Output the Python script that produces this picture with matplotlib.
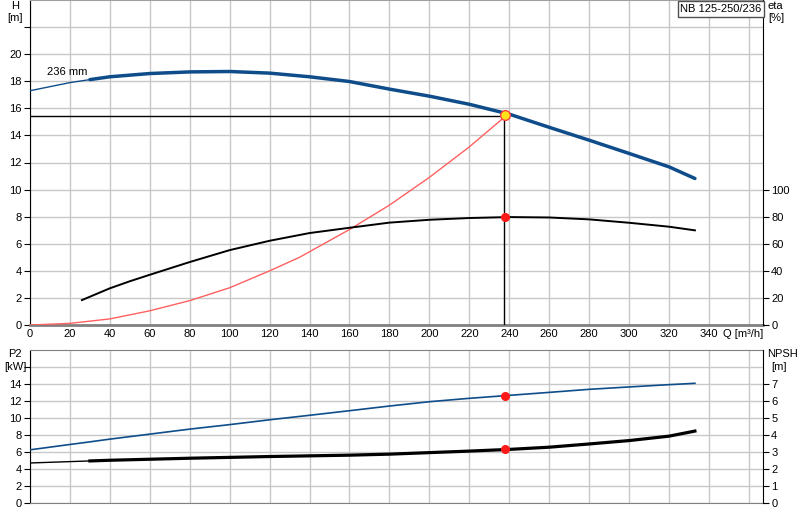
import matplotlib.pyplot as plt
import numpy as np

plt.rcParams['font.family'] = ['Liberation Sans', 'DejaVu Sans']
plt.rcParams['font.size'] = 8

# Data
q_h = [0, 20, 30, 40, 60, 80, 100, 120, 140, 160, 180, 200, 220, 240, 260, 280, 300, 320, 333]
head = [17.3, 17.9, 18.12, 18.33, 18.57, 18.69, 18.72, 18.6, 18.33, 17.98, 17.42, 16.9, 16.3,
        15.57, 14.6, 13.65, 12.67, 11.68, 10.82]

q_sys = [0, 20, 40, 60, 80, 100, 120, 135, 160, 180, 200, 220, 238]
h_sys = [0, 0.12, 0.45, 1.05, 1.8, 2.75, 4.0, 5.0, 7.05, 8.85, 10.9, 13.15, 15.4]

q_eta = [26, 40, 50, 60, 80, 100, 120, 140, 160, 180, 200, 220, 240, 260, 280, 300, 320, 333]
eta = [18.4, 27.1, 32.3, 37.1, 46.5, 55.3, 62.2, 67.9, 71.8, 75.6, 77.7, 79.0, 79.7, 79.4,
       78.0, 75.5, 72.6, 69.9]

q_p = [0, 20, 30, 40, 60, 80, 100, 120, 140, 160, 180, 200, 220, 240, 260, 280, 300, 320, 333]
p2 = [6.23, 6.86, 7.17, 7.49, 8.08, 8.67, 9.2, 9.77, 10.3, 10.84, 11.39, 11.9, 12.3, 12.65,
      13.0, 13.36, 13.64, 13.91, 14.07]
npsh = [2.34, 2.42, 2.46, 2.5, 2.56, 2.62, 2.67, 2.72, 2.76, 2.8, 2.86, 2.95, 3.04, 3.14,
        3.27, 3.46, 3.66, 3.92, 4.22]

duty_q = 238
duty_h = 15.45
duty_eta = 80
duty_p2 = 12.6
duty_npsh = 3.14

blue = '#0f4d8a'
grid_c = '#c8c8c8'

fig = plt.figure(figsize=(8, 5.2), dpi=100)

# ---- top panel: head + efficiency
ax = fig.add_axes([0.0375, 0.375, 0.916, 0.625])
ax.set_xlim(0, 367)
ax.set_ylim(0, 24)
ax.set_xticks(np.arange(0, 361, 20))
ax.set_xticklabels([str(v) if v <= 340 else '' for v in range(0, 361, 20)])
ax.set_yticks(np.arange(0, 23, 2))
ax.set_yticklabels([str(v) if v <= 20 else '' for v in range(0, 23, 2)])
ax.grid(True, color=grid_c, lw=1)
ax.set_axisbelow(True)
ax.tick_params(axis='x', length=0, pad=3)
ax.tick_params(axis='y', direction='out', length=4, pad=2)
ax.spines['top'].set_color('#a0a0a0')
ax.spines['bottom'].set_color('#808080')
ax.spines['bottom'].set_linewidth(2)
ax.spines['right'].set_visible(False)

qh = np.array(q_h)
hh = np.array(head)
ax.plot(qh, hh, color=blue, lw=1, zorder=3)
ax.plot(qh[qh >= 30], hh[qh >= 30], color=blue, lw=2.5, zorder=3, solid_capstyle='round')
ax.plot(q_sys, h_sys, color='#ff6060', lw=1, zorder=3)
ax.plot([0, duty_q], [duty_h - 0.05, duty_h - 0.05], color='black', lw=1, zorder=4)
ax.plot([duty_q - 0.5, duty_q - 0.5], [0, duty_h - 0.05], color='black', lw=1, zorder=4)
ax.plot(duty_q, duty_h + 0.05, 'o', ms=7, mfc='#ffe21a', mec='#ff4040', mew=1, zorder=5)
ax.text(8.5, 18.7, '236 mm', fontsize=8, va='center')
ax.annotate('Q [m³/h]', xy=(347, 0), xycoords=('data', 'axes fraction'),
            xytext=(0, -3), textcoords='offset points', va='top', ha='left',
            fontsize=8, annotation_clip=False)

ax2 = ax.twinx()
ax2.set_ylim(0, 240)
ax2.set_yticks(np.arange(0, 101, 20))
ax2.tick_params(axis='y', direction='out', length=4, pad=2)
ax2.spines['right'].set_color('black')
ax2.spines['top'].set_visible(False)
ax2.spines['left'].set_visible(False)
ax2.spines['bottom'].set_visible(False)
ax2.plot(q_eta, eta, color='black', lw=1.4, zorder=3)
ax2.plot(duty_q, duty_eta, 'o', ms=5.5, color='#ff1a1a', zorder=5)

fig.text(15 / 800, 1 - 6 / 520, 'H', ha='center', va='center', fontsize=8)
fig.text(15 / 800, 1 - 18 / 520, '[m]', ha='center', va='center', fontsize=8)
fig.text(768 / 800, 1 - 6 / 520, 'eta', ha='left', va='center', fontsize=8)
fig.text(768 / 800, 1 - 18 / 520, '[%]', ha='left', va='center', fontsize=8)
fig.text(721 / 800, 1 - 9 / 520, 'NB 125-250/236', ha='center', va='center', fontsize=8,
         bbox=dict(boxstyle='square,pad=0.25', fc='white', ec='#505050', lw=1))

# ---- bottom panel: power + NPSH
bx = fig.add_axes([0.0375, 0.0333, 0.916, 0.2937])
bx.set_xlim(0, 367)
bx.set_ylim(0, 18)
bx.set_xticks(np.arange(0, 361, 20))
bx.set_xticklabels([])
bx.set_yticks(np.arange(0, 17, 2))
bx.set_yticklabels([str(v) if v <= 14 else '' for v in range(0, 17, 2)])
bx.grid(True, color=grid_c, lw=1)
bx.set_axisbelow(True)
bx.tick_params(axis='x', length=0)
bx.tick_params(axis='y', direction='out', length=4, pad=2)
bx.spines['top'].set_color('#808080')
bx.spines['bottom'].set_color('#808080')
bx.spines['right'].set_visible(False)

bx.plot(q_p, p2, color=blue, lw=1.2, zorder=3)
bx.plot(duty_q, duty_p2, 'o', ms=5.5, color='#ff1a1a', zorder=5)

bx2 = bx.twinx()
bx2.set_ylim(0, 9)
bx2.set_yticks(np.arange(0, 8, 1))
bx2.tick_params(axis='y', direction='out', length=4, pad=2)
bx2.spines['right'].set_color('black')
bx2.spines['top'].set_visible(False)
bx2.spines['left'].set_visible(False)
bx2.spines['bottom'].set_visible(False)
qp = np.array(q_p)
nn = np.array(npsh)
bx2.plot(qp, nn, color='black', lw=1, zorder=3)
bx2.plot(qp[qp >= 30], nn[qp >= 30], color='black', lw=2.3, zorder=3)
bx2.plot(duty_q, duty_npsh, 'o', ms=5.5, color='#ff1a1a', zorder=5)

fig.text(15 / 800, 1 - 354 / 520, 'P2', ha='center', va='center', fontsize=8)
fig.text(15 / 800, 1 - 367 / 520, '[kW]', ha='center', va='center', fontsize=8)
fig.text(767 / 800, 1 - 354 / 520, 'NPSH', ha='left', va='center', fontsize=8)
fig.text(771 / 800, 1 - 367 / 520, '[m]', ha='left', va='center', fontsize=8)

fig.savefig('out.png', dpi=100)
